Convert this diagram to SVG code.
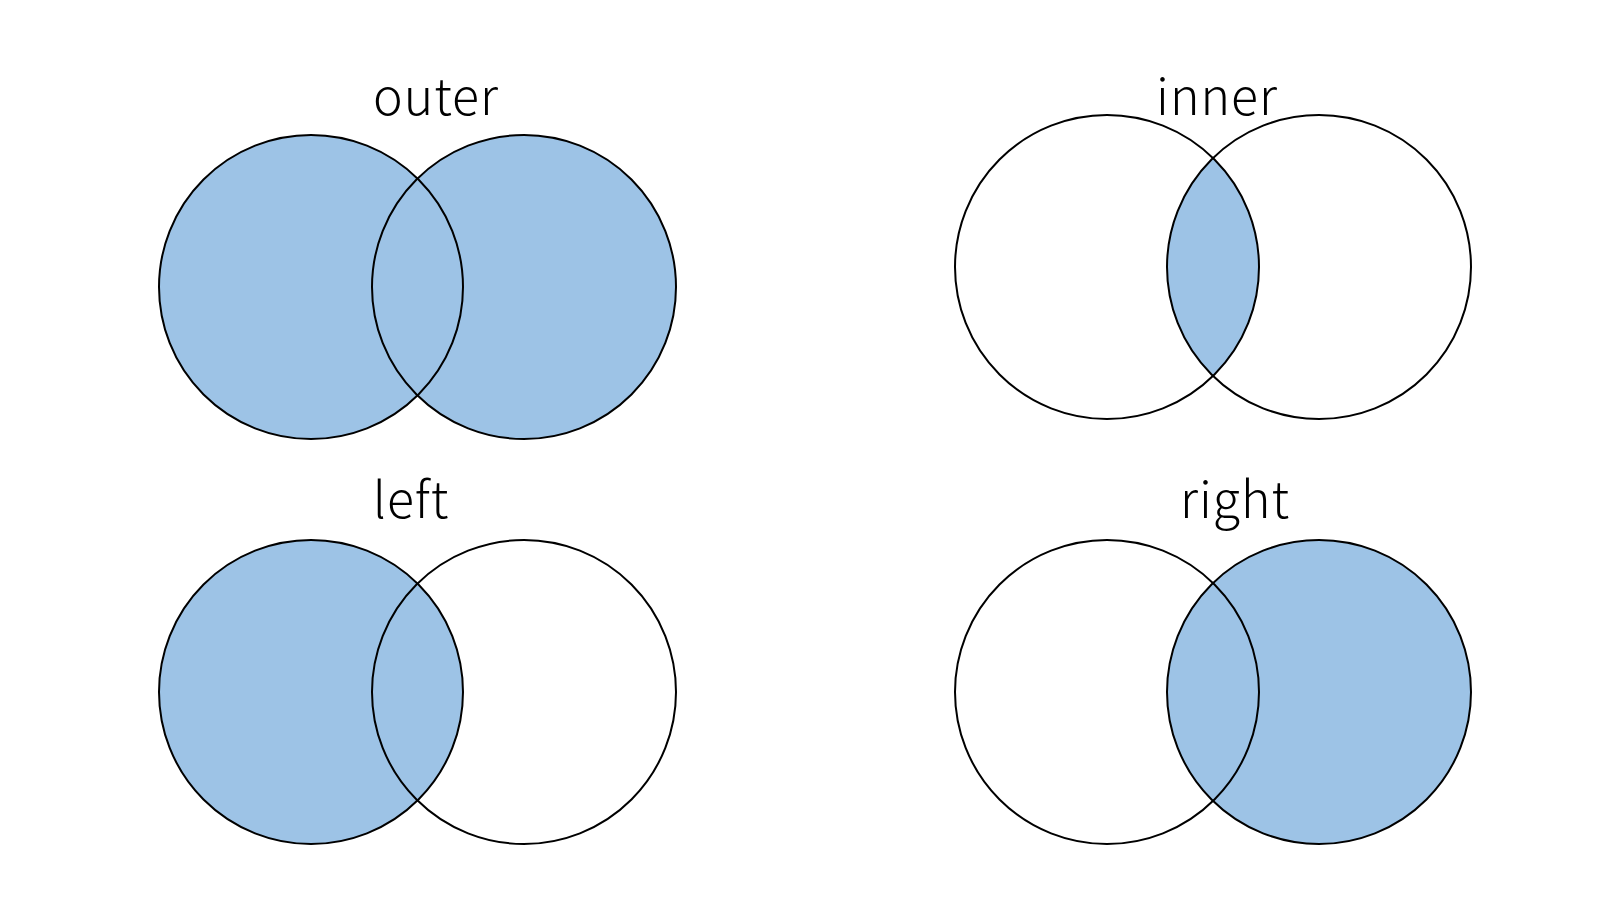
<svg xmlns="http://www.w3.org/2000/svg" width="1600" height="900" viewBox="0 0 1600 900">
<style>
.lbl{font-family:"Noto Sans CJK JP","Noto Sans",sans-serif;font-size:50px;font-weight:300;fill:#000;text-anchor:middle;letter-spacing:1px}
.fill{fill:#9DC3E6;stroke:none}
.ring{fill:none;stroke:#000;stroke-width:2}
</style>
<rect width="1600" height="900" fill="#fff"/>
<g id="outer">
<circle class="fill" cx="311" cy="287" r="152"/>
<circle class="fill" cx="524" cy="287" r="152"/>
<circle class="ring" cx="311" cy="287" r="152"/>
<circle class="ring" cx="524" cy="287" r="152"/>
<text class="lbl" x="436" y="115">outer</text>
</g>
<g id="inner">
<path class="fill" d="M1213,158.1 A152,152 0 0 1 1213,375.9 A152,152 0 0 1 1213,158.1 Z"/>
<circle class="ring" cx="1107" cy="267" r="152"/>
<circle class="ring" cx="1319" cy="267" r="152"/>
<text class="lbl" x="1217" y="115">inner</text>
</g>
<g id="left">
<circle class="fill" cx="311" cy="692" r="152"/>
<circle class="ring" cx="311" cy="692" r="152"/>
<circle class="ring" cx="524" cy="692" r="152"/>
<text class="lbl" x="411" y="518">left</text>
</g>
<g id="right">
<circle class="fill" cx="1319" cy="692" r="152"/>
<circle class="ring" cx="1107" cy="692" r="152"/>
<circle class="ring" cx="1319" cy="692" r="152"/>
<text class="lbl" x="1235" y="518">right</text>
</g>
<g id="connectors"></g>
</svg>
